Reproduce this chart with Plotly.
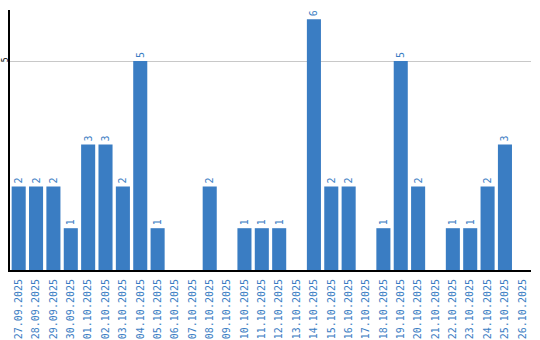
import plotly.graph_objects as go

dates = ["27.09.2025","28.09.2025","29.09.2025","30.09.2025","01.10.2025","02.10.2025",
         "03.10.2025","04.10.2025","05.10.2025","06.10.2025","07.10.2025","08.10.2025",
         "09.10.2025","10.10.2025","11.10.2025","12.10.2025","13.10.2025","14.10.2025",
         "15.10.2025","16.10.2025","17.10.2025","18.10.2025","19.10.2025","20.10.2025",
         "21.10.2025","22.10.2025","23.10.2025","24.10.2025","25.10.2025","26.10.2025"]
values = [2,2,2,1,3,3,2,5,1,0,0,2,0,1,1,1,0,6,2,2,0,1,5,2,0,1,1,2,3,0]
labels = [str(v) if v > 0 else "" for v in values]

blue = "#3a7dc3"
fig = go.Figure(go.Bar(
    x=dates, y=values, text=labels, textposition="outside", textangle=-90,
    textfont=dict(color=blue, size=10, family="DejaVu Sans Mono"),
    marker=dict(color=blue, line=dict(width=0)), cliponaxis=False,
))
fig.update_layout(
    width=540, height=340, margin=dict(l=10, r=9, t=10, b=70, autoexpand=False),
    plot_bgcolor="white", paper_bgcolor="white", showlegend=False, bargap=0.19,
    xaxis=dict(type="category", tickangle=-90, showline=True, linecolor="black", linewidth=2,
               ticks="", tickfont=dict(color=blue, size=10, family="DejaVu Sans Mono"),
               showgrid=False, automargin=False, ticklabelstandoff=3),
    yaxis=dict(range=[0, 6.22], tickvals=[5], ticktext=["5"], tickangle=-90,
               showline=True, linecolor="black", linewidth=2, showgrid=True,
               gridcolor="#c8c8c8", gridwidth=1, zeroline=False, ticks="",
               tickfont=dict(color="black", size=8, family="DejaVu Sans Mono"),
               ticklabelstandoff=-3, automargin=False),
)
fig.write_html("out.html")
